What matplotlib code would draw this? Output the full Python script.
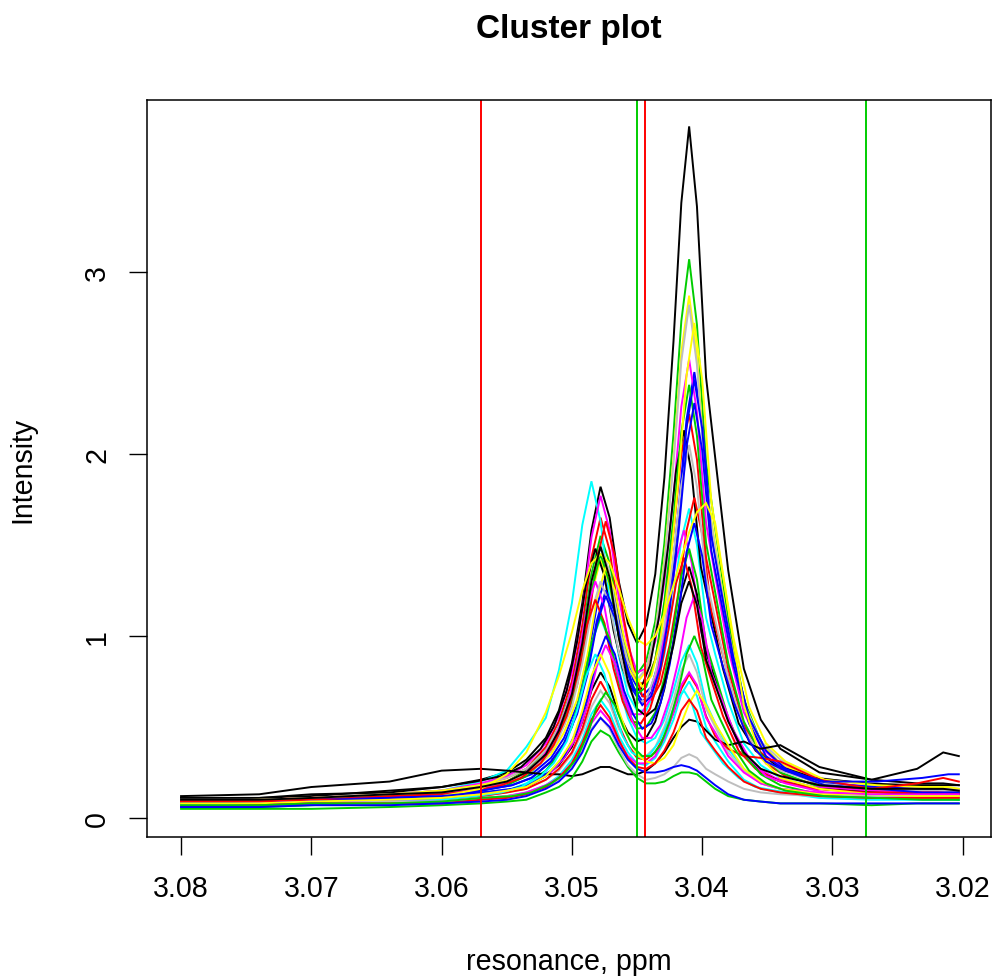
import matplotlib
matplotlib.use('Agg')
import matplotlib.pyplot as plt

plt.rcParams['font.family'] = ['Liberation Sans', 'DejaVu Sans']

# chemical shift grids (ppm); some samples are slightly shifted
ppm = [3.0800, 3.0740, 3.0700, 3.0640, 3.0600, 3.0570, 3.0550, 3.0535, 3.0520,
       3.0510, 3.0500, 3.0492, 3.0485, 3.0478, 3.0471, 3.0464, 3.0457, 3.0450,
       3.0443, 3.0436, 3.0429, 3.0422, 3.0416, 3.0410, 3.0404, 3.0397, 3.0390,
       3.0380, 3.0368, 3.0355, 3.0340, 3.0310, 3.0270, 3.0235, 3.0215, 3.0203]
ppm_r = [3.0800, 3.0740, 3.0700, 3.0640, 3.0600, 3.0570, 3.0546, 3.0531, 3.0516,
         3.0506, 3.0496, 3.0488, 3.0481, 3.0474, 3.0467, 3.0460, 3.0453, 3.0446,
         3.0439, 3.0432, 3.0425, 3.0418, 3.0412, 3.0406, 3.0400, 3.0393, 3.0386,
         3.0376, 3.0364, 3.0351, 3.0336, 3.0306, 3.0266, 3.0231, 3.0211, 3.0203]
ppm_l = [3.0800, 3.0740, 3.0700, 3.0640, 3.0600, 3.0574, 3.0554, 3.0539, 3.0524,
         3.0514, 3.0504, 3.0496, 3.0489, 3.0482, 3.0475, 3.0468, 3.0461, 3.0454,
         3.0447, 3.0440, 3.0433, 3.0426, 3.0420, 3.0414, 3.0408, 3.0401, 3.0394,
         3.0384, 3.0372, 3.0359, 3.0344, 3.0314, 3.0274, 3.0239, 3.0219, 3.0203]

# intensities, one list per sample
s01 = [.11,.11,.12,.15,.17,.21,.25,.32,.44,.59,.85,1.18,1.58,1.82,1.65,1.30,1.07,.96,1.06,1.34,1.87,2.62,3.38,3.80,3.36,2.42,1.98,1.36,.82,.54,.38,.25,.21,.19,.19,.18]
s02 = [.09,.10,.11,.13,.15,.18,.22,.27,.39,.53,.75,1.06,1.43,1.65,1.47,1.12,.88,.74,.74,.87,1.16,1.57,2.00,2.22,1.97,1.43,1.18,.82,.51,.36,.27,.19,.17,.16,.15,.15]
s03 = [.08,.09,.10,.12,.13,.17,.20,.26,.37,.50,.71,1.00,1.34,1.55,1.40,1.10,.89,.79,.86,1.08,1.51,2.11,2.73,3.07,2.71,1.95,1.59,1.09,.65,.42,.29,.18,.15,.13,.13,.13]
s04 = [.08,.09,.10,.11,.14,.17,.20,.24,.33,.44,.62,.87,1.16,1.33,1.20,.94,.76,.67,.72,.89,1.22,1.70,2.19,2.45,2.17,1.57,1.28,.89,.55,.37,.27,.19,.16,.15,.14,.14]
s05 = [.07,.08,.09,.12,.15,.20,.26,.39,.55,.81,1.18,1.61,1.85,1.63,1.20,.89,.68,.59,.59,.70,.90,1.21,1.53,1.70,1.50,1.10,.90,.64,.41,.29,.22,.16,.14,.13,.13,.13]
s06 = [.09,.10,.11,.13,.15,.19,.23,.29,.41,.56,.80,1.14,1.54,1.77,1.58,1.21,.95,.80,.82,.97,1.30,1.77,2.26,2.52,2.23,1.62,1.33,.93,.58,.39,.29,.20,.17,.16,.16,.15]
s07 = [.08,.09,.10,.12,.14,.17,.20,.25,.35,.47,.66,.92,1.23,1.42,1.28,1.01,.83,.74,.81,1.02,1.42,1.98,2.56,2.87,2.54,1.83,1.50,1.04,.63,.41,.30,.20,.16,.15,.15,.14]
s08 = [.09,.10,.11,.13,.15,.18,.22,.27,.37,.50,.70,.97,1.30,1.50,1.35,1.06,.86,.76,.82,1.02,1.40,1.95,2.51,2.82,2.49,1.80,1.48,1.02,.63,.42,.32,.22,.18,.17,.17,.16]
s09 = [.11,.11,.13,.14,.17,.20,.23,.28,.38,.50,.70,.97,1.29,1.48,1.33,1.03,.82,.70,.71,.84,1.11,1.50,1.91,2.13,1.89,1.38,1.15,.82,.52,.37,.29,.22,.19,.18,.18,.18]
s10 = [.08,.08,.10,.11,.14,.17,.20,.26,.37,.51,.73,1.04,1.41,1.63,1.44,1.09,.83,.67,.65,.74,.95,1.25,1.58,1.76,1.56,1.14,.95,.66,.43,.30,.23,.17,.15,.14,.14,.14]
s11 = [.07,.08,.09,.10,.12,.15,.18,.23,.33,.46,.65,.93,1.25,1.45,1.29,1.00,.79,.68,.72,.87,1.19,1.65,2.12,2.38,2.10,1.51,1.24,.85,.53,.35,.25,.17,.14,.13,.12,.12]
s12 = [.07,.07,.09,.10,.12,.15,.18,.22,.31,.41,.58,.81,1.08,1.25,1.13,.89,.72,.64,.69,.87,1.20,1.67,2.15,2.41,2.14,1.55,1.27,.88,.55,.37,.27,.19,.17,.16,.15,.15]
s13 = [.07,.07,.08,.09,.10,.13,.15,.19,.26,.35,.50,.71,.96,1.10,.97,.73,.55,.44,.41,.44,.54,.70,.86,.95,.85,.63,.52,.38,.27,.19,.16,.13,.12,.11,.11,.11]
s14 = [.08,.08,.09,.11,.13,.16,.18,.23,.32,.42,.60,.84,1.13,1.30,1.16,.88,.69,.57,.57,.65,.84,1.13,1.42,1.58,1.40,1.03,.85,.61,.40,.28,.22,.17,.15,.14,.14,.13]
s15 = [.09,.10,.11,.13,.15,.18,.21,.26,.35,.47,.65,.90,1.20,1.38,1.25,.99,.81,.72,.78,.98,1.35,1.88,2.43,2.72,2.41,1.74,1.42,.99,.61,.41,.31,.21,.18,.17,.17,.16]
s16 = [.10,.10,.11,.13,.14,.17,.20,.24,.33,.44,.61,.85,1.13,1.30,1.17,.91,.73,.63,.65,.79,1.05,1.44,1.83,2.05,1.82,1.32,1.09,.77,.49,.34,.26,.19,.16,.15,.15,.15]
s17 = [.08,.08,.09,.10,.11,.13,.15,.17,.23,.29,.39,.53,.70,.80,.72,.57,.47,.42,.44,.53,.71,.97,1.24,1.38,1.23,.91,.76,.54,.35,.25,.20,.16,.14,.13,.13,.13]
s18 = [.09,.09,.10,.12,.13,.15,.18,.22,.30,.40,.56,.78,1.05,1.20,1.07,.82,.64,.53,.52,.60,.77,1.03,1.29,1.43,1.27,.94,.78,.56,.37,.27,.21,.16,.14,.14,.14,.13]
s19 = [.06,.06,.07,.09,.10,.12,.15,.18,.26,.35,.50,.71,.96,1.11,.98,.75,.59,.49,.50,.58,.77,1.04,1.33,1.48,1.31,.95,.79,.55,.35,.24,.18,.13,.12,.11,.11,.10]
s20 = [.08,.08,.10,.11,.12,.15,.18,.22,.31,.41,.57,.79,1.06,1.22,1.10,.87,.70,.62,.67,.83,1.14,1.58,2.04,2.28,2.02,1.47,1.21,.84,.52,.34,.26,.18,.16,.14,.14,.14]
s21 = [.06,.07,.08,.08,.08,.10,.12,.14,.18,.23,.32,.43,.57,.65,.58,.45,.36,.30,.29,.33,.42,.54,.68,.75,.67,.50,.42,.31,.21,.16,.14,.11,.10,.10,.10,.10]
s22 = [.08,.08,.09,.10,.11,.13,.15,.19,.25,.33,.45,.62,.83,.95,.85,.66,.52,.44,.44,.51,.66,.87,1.10,1.22,1.09,.80,.67,.48,.33,.23,.19,.14,.13,.12,.12,.12]
s23 = [.07,.08,.09,.10,.12,.16,.24,.36,.58,.78,1.02,1.25,1.40,1.45,1.40,1.26,1.10,.98,.95,1.00,1.12,1.28,1.43,1.57,1.68,1.73,1.62,1.15,.62,.33,.22,.16,.13,.12,.12,.12]
s24 = [.07,.08,.09,.10,.11,.12,.14,.16,.21,.26,.35,.47,.61,.70,.63,.49,.40,.34,.34,.39,.50,.65,.81,.90,.80,.60,.50,.36,.26,.19,.16,.13,.12,.12,.12,.12]
s25 = [.12,.13,.17,.20,.26,.27,.26,.25,.24,.24,.23,.24,.26,.28,.28,.26,.24,.24,.26,.30,.36,.44,.50,.54,.53,.48,.43,.40,.42,.38,.40,.28,.21,.27,.36,.34]
s26 = [.09,.09,.10,.10,.11,.12,.14,.16,.21,.27,.36,.49,.65,.75,.66,.51,.40,.33,.32,.36,.45,.58,.71,.79,.72,.56,.45,.38,.34,.33,.31,.21,.16,.19,.22,.20]
s27 = [.05,.05,.05,.06,.07,.08,.09,.10,.14,.17,.22,.31,.42,.48,.45,.36,.28,.22,.19,.19,.20,.23,.25,.25,.24,.20,.16,.12,.10,.09,.08,.08,.07,.08,.08,.08]
s28 = [.08,.08,.09,.11,.12,.14,.16,.19,.26,.34,.48,.66,.87,1.00,.90,.70,.57,.49,.52,.63,.84,1.14,1.46,1.62,1.44,1.06,.88,.64,.42,.31,.26,.20,.20,.22,.24,.24]
s29 = [.07,.07,.08,.09,.10,.12,.14,.17,.23,.30,.42,.59,.78,.90,.79,.60,.45,.36,.33,.35,.42,.53,.64,.70,.63,.47,.40,.30,.22,.17,.15,.12,.11,.11,.11,.11]
s30 = [.07,.08,.09,.09,.09,.11,.12,.14,.18,.22,.30,.40,.52,.59,.53,.42,.34,.30,.30,.34,.44,.58,.73,.80,.73,.55,.47,.34,.25,.19,.16,.14,.13,.13,.13,.13]
s31 = [.08,.08,.09,.10,.11,.13,.15,.17,.23,.31,.42,.59,.78,.90,.79,.59,.45,.35,.31,.30,.33,.40,.52,.63,.70,.62,.52,.40,.27,.20,.16,.13,.12,.12,.12,.12]
s32 = [.07,.07,.08,.09,.09,.11,.12,.13,.17,.21,.28,.37,.49,.55,.49,.38,.29,.24,.21,.22,.24,.28,.33,.35,.33,.27,.24,.20,.16,.14,.13,.12,.12,.11,.11,.11]
s33 = [.10,.10,.11,.13,.14,.17,.20,.25,.35,.48,.68,.96,1.30,1.49,1.32,.99,.75,.60,.56,.60,.74,.95,1.18,1.30,1.17,.87,.73,.53,.36,.27,.23,.18,.16,.16,.16,.15]
s34 = [.06,.07,.08,.08,.08,.10,.11,.13,.17,.22,.30,.41,.54,.62,.55,.43,.33,.28,.27,.30,.37,.47,.59,.65,.59,.44,.37,.28,.20,.16,.14,.12,.11,.11,.11,.11]
s35 = [.07,.07,.08,.08,.09,.11,.12,.14,.19,.24,.33,.46,.61,.69,.62,.49,.39,.34,.34,.40,.53,.71,.90,1.00,.89,.65,.54,.39,.26,.19,.15,.12,.11,.10,.10,.10]
s36 = [.06,.06,.07,.07,.08,.09,.10,.12,.16,.20,.27,.36,.48,.55,.50,.40,.32,.27,.25,.25,.26,.28,.29,.28,.26,.22,.18,.13,.10,.09,.08,.08,.08,.08,.08,.08]

# (grid, intensities) in the order the samples were drawn
samples = [(ppm, s01), (ppm, s02), (ppm, s03), (ppm_r, s04), (ppm, s05), (ppm, s06),
           (ppm, s07), (ppm, s08), (ppm_l, s09), (ppm_r, s10), (ppm, s11), (ppm_r, s12),
           (ppm, s13), (ppm_l, s14), (ppm_r, s15), (ppm, s16), (ppm, s17), (ppm_l, s18),
           (ppm, s19), (ppm_r, s20), (ppm, s21), (ppm_r, s22), (ppm, s23), (ppm, s24),
           (ppm, s25), (ppm, s26), (ppm, s27), (ppm_r, s28), (ppm_l, s29), (ppm, s30),
           (ppm, s31), (ppm, s32), (ppm, s33), (ppm, s34), (ppm_r, s35), (ppm, s36)]

# bucket boundaries drawn as vertical lines
red_marks = [3.0570, 3.0444]
green_marks = [3.0450, 3.0274]

xticks = [3.08, 3.07, 3.06, 3.05, 3.04, 3.03, 3.02]
yticks = [0, 1, 2, 3]

# old R palette
palette = ['black', 'red', '#00CD00', 'blue', 'cyan', 'magenta', 'yellow', '#BEBEBE']

W, H = 993, 979
fig = plt.figure(figsize=(W / 100, H / 100), dpi=100)
ax = fig.add_axes([147.3 / W, 1 - 837.7 / H, (991 - 147.3) / W, (837.7 - 101) / H])

for k, (x, s) in enumerate(samples):
    ax.plot(x, s, color=palette[k % 8], lw=1.4, solid_joinstyle='miter')

for v in red_marks:
    ax.axvline(v, color='red', lw=1.4)
for v in green_marks:
    ax.axvline(v, color='#00CD00', lw=1.4)

ax.set_xlim(3.08259, 3.01783)
ax.set_ylim(-0.103, 3.945)
ax.set_xticks(xticks)
ax.set_xticklabels(['%.2f' % t for t in xticks])
ax.set_yticks(yticks)
ax.set_yticklabels([str(t) for t in yticks], rotation=90, va='center')
ax.tick_params(axis='both', direction='out', length=13, width=1.0, labelsize=20.6)
ax.tick_params(axis='x', pad=14)
ax.tick_params(axis='y', pad=13)
for sp in ax.spines.values():
    sp.set_linewidth(1.1)

cx = (147.3 + 991) / 2 / W
fig.text(cx, 1 - 38 / H, 'Cluster plot', ha='center', va='baseline',
         fontsize=24, fontweight='bold')
fig.text(cx, 1 - 970 / H, 'resonance, ppm', ha='center', va='baseline', fontsize=20.6)
fig.text(22 / W, 1 - 469.4 / H, 'Intensity', ha='center', va='center',
         rotation=90, fontsize=20.6)

fig.savefig('out.png', dpi=100)
